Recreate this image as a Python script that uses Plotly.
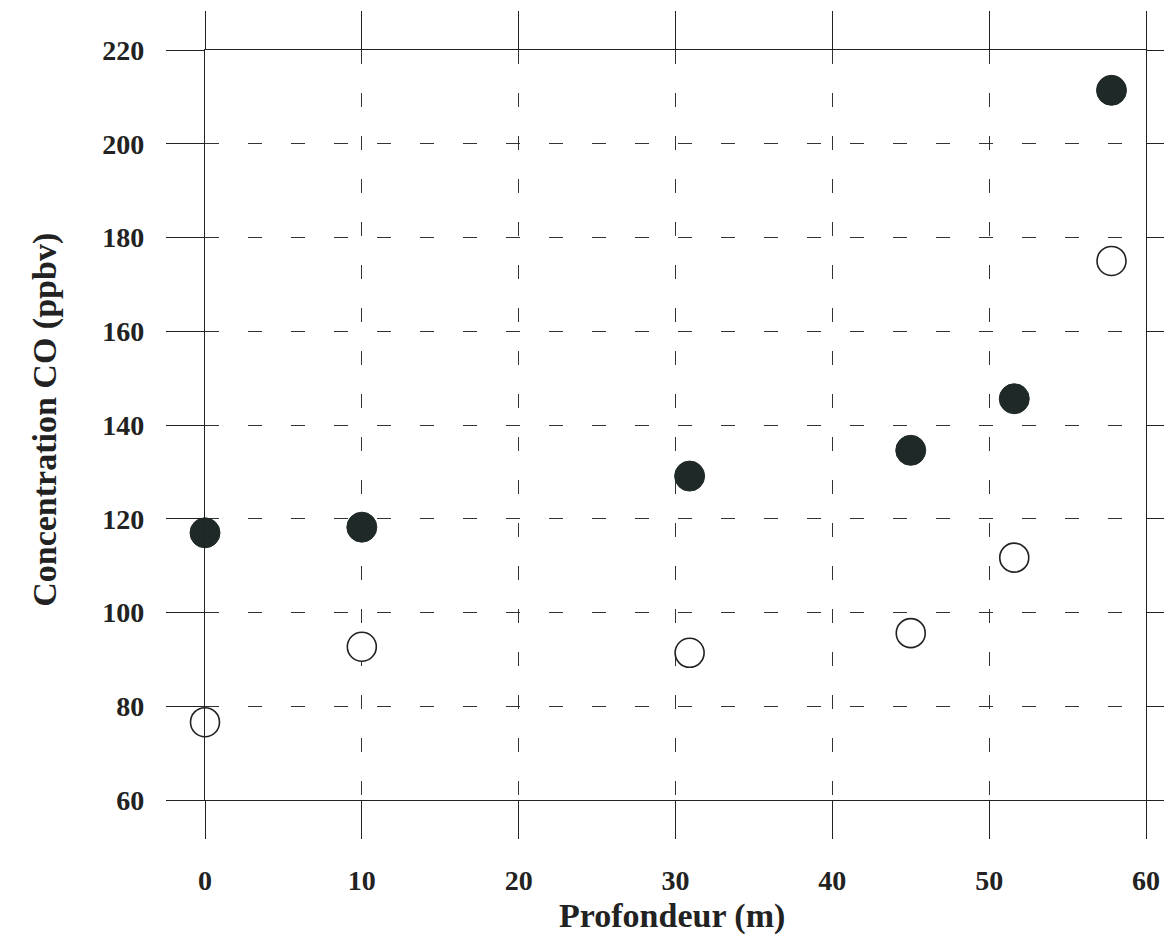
import plotly.graph_objects as go

depth = [0, 10, 30.9, 45, 51.6, 57.8]
co_filled = [117, 118.2, 129.1, 134.6, 145.6, 211.4]
co_open = [76.6, 92.7, 91.4, 95.6, 111.7, 175.0]

x_ticks = [0, 10, 20, 30, 40, 50, 60]
y_ticks = [60, 80, 100, 120, 140, 160, 180, 200, 220]

FONT = "Liberation Serif"
INK = "#222222"

fig = go.Figure()
fig.add_trace(go.Scatter(
    x=depth, y=co_filled, mode="markers",
    marker=dict(size=30, color="#1f2a28", line=dict(color="#1f2a28", width=1)),
    showlegend=False, cliponaxis=False,
))
fig.add_trace(go.Scatter(
    x=depth, y=co_open, mode="markers",
    marker=dict(size=29, color="white", line=dict(color=INK, width=1.6)),
    showlegend=False, cliponaxis=False,
))

axis_common = dict(
    showline=True, linecolor=INK, linewidth=1.4, mirror="ticks",
    ticks="outside", ticklen=38, tickwidth=1.4, tickcolor=INK,
    showgrid=True, gridcolor="#333333", gridwidth=1.1, griddash="14px,29px",
    zeroline=False, automargin=False,
    tickfont=dict(family=FONT, size=28, color=INK, weight="bold"),
)

fig.update_xaxes(range=[0, 60], tickvals=x_ticks, ticktext=[str(v) for v in x_ticks],
                 ticklabelstandoff=17, **axis_common)
fig.update_yaxes(range=[60, 220], tickvals=y_ticks, ticktext=[str(v) for v in y_ticks],
                 ticklabelstandoff=16, **axis_common)

fig.add_annotation(text="<b>Profondeur (m)</b>", xref="paper", yref="paper",
                   x=0.496, y=-0.155, showarrow=False, xanchor="center", yanchor="middle",
                   font=dict(family=FONT, size=34, color=INK))
fig.add_annotation(text="<b>Concentration CO (ppbv)</b>", xref="paper", yref="paper",
                   x=-0.170, y=0.507, showarrow=False, xanchor="center", yanchor="middle",
                   textangle=-90, font=dict(family=FONT, size=34, color=INK))

fig.update_layout(
    width=1164, height=936,
    margin=dict(l=205, r=18, t=50, b=136, autoexpand=False),
    plot_bgcolor="white", paper_bgcolor="white",
)

fig.write_html("out.html", config={"displayModeBar": False},
               post_script="document.body.style.margin='0';document.body.style.overflow='hidden';")
